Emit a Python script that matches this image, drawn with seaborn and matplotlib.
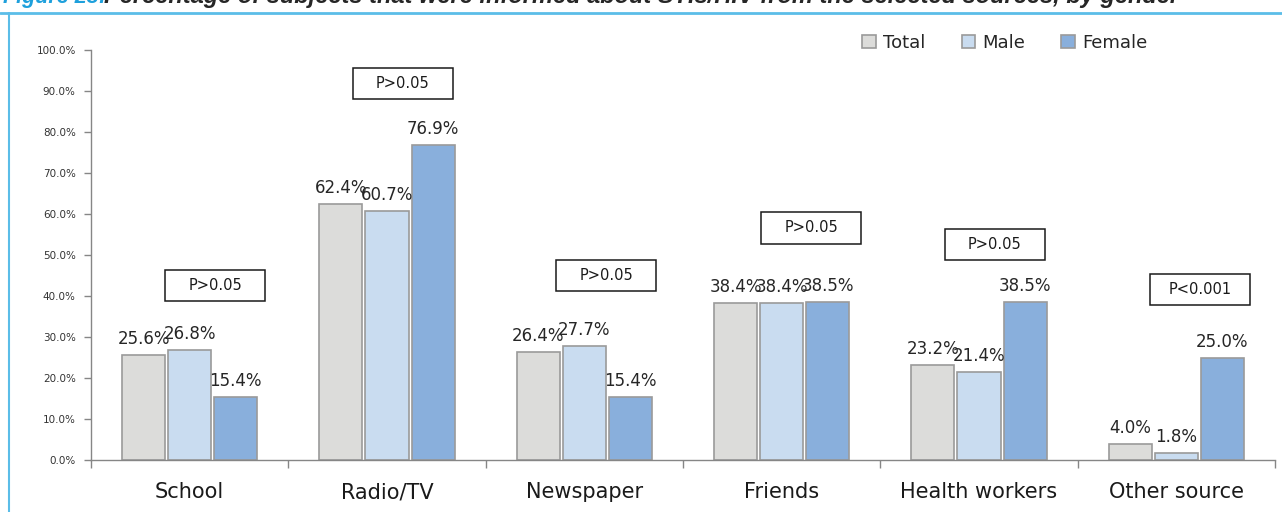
import pandas as pd
import numpy as np
import matplotlib
matplotlib.use('Agg')
import matplotlib.pyplot as plt
from matplotlib.patches import Rectangle
from matplotlib.lines import Line2D
from matplotlib.ticker import FuncFormatter
import seaborn as sns

# data
sources = ['School', 'Radio/TV', 'Newspaper', 'Friends', 'Health workers', 'Other source']
total = [25.6, 62.4, 26.4, 38.4, 23.2, 4.0]
male = [26.8, 60.7, 27.7, 38.4, 21.4, 1.8]
female = [15.4, 76.9, 15.4, 38.5, 38.5, 25.0]
p_values = ['P>0.05', 'P>0.05', 'P>0.05', 'P>0.05', 'P>0.05', 'P<0.001']

# where the p-value boxes sit (category units, percent)
p_box_x = [0.13, 1.08, 2.11, 3.15, 4.08, 5.12]
p_box_y = [42.6, 91.8, 45.0, 56.6, 52.6, 41.5]

groups = ['Total', 'Male', 'Female']
colors = ['#dcdcda', '#c9dcf0', '#89afdc']

df = pd.DataFrame({
    'source': sources * 3,
    'group': ['Total'] * 6 + ['Male'] * 6 + ['Female'] * 6,
    'pct': total + male + female,
})

sns.set_style('white')
plt.rcParams['font.family'] = ['DejaVu Sans']

fig = plt.figure(figsize=(12.82, 5.12), dpi=100)
ax = fig.add_axes([91 / 1282, 52 / 512, (1275 - 91) / 1282, (460 - 50) / 512])

sns.barplot(data=df, x='source', y='pct', hue='group', order=sources,
            hue_order=groups, palette=colors, saturation=1, width=0.7, gap=0.065,
            edgecolor='#9a9a9a', linewidth=1.2, ax=ax, legend=False)

for cont in ax.containers:
    ax.bar_label(cont, fmt='%.1f%%', padding=5, fontsize=12, color='#262626')

ax.set_xlim(-0.5, 5.5)
ax.set_ylim(0, 100)
ax.set_yticks(np.arange(0, 101, 10))
ax.yaxis.set_major_formatter(FuncFormatter(lambda v, _: f'{v:.1f}%'))
ax.tick_params(axis='y', labelsize=7.5, length=5, width=1, color='#868686',
               labelcolor='#333333', left=True, direction='out', pad=6)
ax.set_xticks(range(len(sources)))
ax.set_xticklabels(sources, fontsize=15, color='#1a1a1a')
ax.tick_params(axis='x', length=0, pad=16)
ax.set_xticks(np.arange(-0.5, 6, 1), minor=True)
ax.tick_params(axis='x', which='minor', length=6, width=1, color='#868686',
               bottom=True, direction='out')
ax.set_xlabel('')
ax.set_ylabel('')
for side in ['top', 'right']:
    ax.spines[side].set_visible(False)
for side in ['left', 'bottom']:
    ax.spines[side].set_color('#868686')
    ax.spines[side].set_linewidth(1)

# p-value boxes
bw, bh = 0.505, 7.6
for x, y, t in zip(p_box_x, p_box_y, p_values):
    ax.add_patch(Rectangle((x - bw / 2, y - bh / 2), bw, bh, facecolor='white',
                           edgecolor='#1a1a1a', linewidth=1.1, clip_on=False, zorder=5))
    ax.text(x, y, t, ha='center', va='center', fontsize=10.5, color='#1a1a1a', zorder=6)

handles = [Rectangle((0, 0), 1, 1, facecolor=c, edgecolor='#9a9a9a', linewidth=1.2)
           for c in colors]
ax.legend(handles, groups, loc='center', bbox_to_anchor=(1005 / 1282, 1 - 43 / 512),
          bbox_transform=fig.transFigure, ncol=3, frameon=False, fontsize=13,
          handlelength=0.75, handleheight=0.75, handletextpad=0.4, columnspacing=2.0)

# frame and clipped caption from the report page
fig.add_artist(Line2D([0, 1], [1 - 13 / 512] * 2, transform=fig.transFigure,
                      color='#5bbde8', linewidth=2))
fig.add_artist(Line2D([9 / 1282] * 2, [0, 1 - 13 / 512], transform=fig.transFigure,
                      color='#5bbde8', linewidth=1.5))
fig.text(0.002, 1 - 3 / 512, 'Figure 23:', color='#1ea0dc', fontsize=15.5,
         fontweight='bold', fontstyle='italic', family=['Liberation Sans'], va='baseline')
fig.text(104 / 1282, 1 - 3 / 512,
         'Percentage of subjects that were informed about STIs/HIV from the selected sources, by gender',
         color='#262626', fontsize=17, fontweight='bold', fontstyle='italic',
         family=['Liberation Sans'], va='baseline')

fig.savefig('out.png', dpi=100)
